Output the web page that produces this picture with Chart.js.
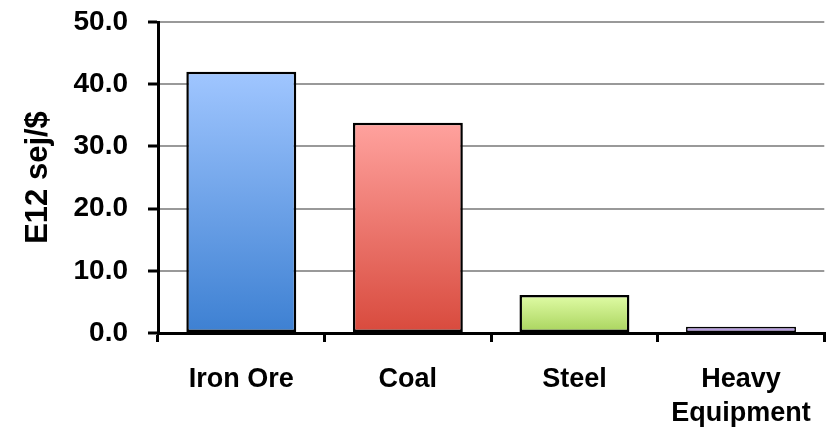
<!DOCTYPE html>
<html>
<head>
<meta charset="utf-8">
<script src="https://cdn.jsdelivr.net/npm/chart.js@4"></script>
<style>
  html, body { margin: 0; padding: 0; background: #fff; }
  #wrap { width: 832px; height: 429px; }
</style>
</head>
<body>
<div id="wrap"><canvas id="emergyChart" width="832" height="429"></canvas></div>
<script>
const categories = ["Iron Ore", "Coal", "Steel", ["Heavy", "Equipment"]];
const values = [42.0, 33.8, 6.1, 1.0];
const yTicks = [0, 10, 20, 30, 40, 50];

// top / bottom colours of each bar's vertical gradient
const topColors = ["#a0c6ff", "#ffa29e", "#e0fca6", "#cdb8f0"];
const bottomColors = ["#3d80d2", "#d84a3d", "#a8d35c", "#9a7ad0"];

const canvas = document.getElementById("emergyChart");
const ctx = canvas.getContext("2d");

function barFill(context) {
    const chart = context.chart;
    const i = context.dataIndex;
    if (!chart.chartArea || !chart.scales.y) return bottomColors[i];
    const y = chart.scales.y;
    const top = y.getPixelForValue(values[i]);
    const bottom = y.getPixelForValue(0);
    const g = chart.ctx.createLinearGradient(0, top, 0, bottom);
    g.addColorStop(0, topColors[i]);
    g.addColorStop(1, bottomColors[i]);
    return g;
}

const fontFamily = "'Liberation Sans', Arial, sans-serif";

new Chart(ctx, {
    type: 'bar',
    data: {
        labels: categories,
        datasets: [{
            data: values,
            backgroundColor: barFill,
            borderColor: "#000",
            // the tiny last bar gets a thinner outline so its fill still shows
            borderWidth: (c) => (values[c.dataIndex] < 2 ? 1.6 : 2.5),
            borderSkipped: false,
            barPercentage: 0.66,
            categoryPercentage: 1.0
        }]
    },
    options: {
        responsive: false,
        animation: false,
        layout: { padding: { top: 22, right: 2, left: 0, bottom: 0 } },
        plugins: {
            legend: { display: false },
            tooltip: { enabled: false }
        },
        scales: {
            x: {
                offset: true,
                afterFit: (scale) => { scale.height = 96; },
                grid: {
                    offset: true,
                    drawOnChartArea: false,
                    color: "#000",
                    lineWidth: 3,
                    tickLength: 9
                },
                border: { color: "#000", width: 3 },
                ticks: {
                    color: "#000",
                    padding: 21,
                    maxRotation: 0,
                    font: { family: fontFamily, size: 27, weight: 'bold', lineHeight: 1.25 }
                }
            },
            y: {
                min: 0,
                max: 50,
                afterFit: (scale) => {
                    scale.width = 158;
                    scale.paddingTop = 0;
                    scale.paddingBottom = 0;
                },
                afterBuildTicks: (scale) => {
                    scale.ticks = yTicks.map(v => ({ value: v }));
                },
                grid: {
                    color: "#999",
                    lineWidth: 2,
                    tickColor: "#000",
                    tickWidth: 3,
                    tickLength: 10
                },
                border: { color: "#000", width: 3 },
                ticks: {
                    color: "#000",
                    padding: 20,
                    callback: v => v.toFixed(1),
                    font: { family: fontFamily, size: 28, weight: 'bold' }
                },
                title: {
                    display: true,
                    text: "E12 sej/$",
                    color: "#000",
                    padding: { top: 20, bottom: 8 },
                    font: { family: fontFamily, size: 31, weight: 'bold' }
                }
            }
        }
    }
});
</script>
</body>
</html>
